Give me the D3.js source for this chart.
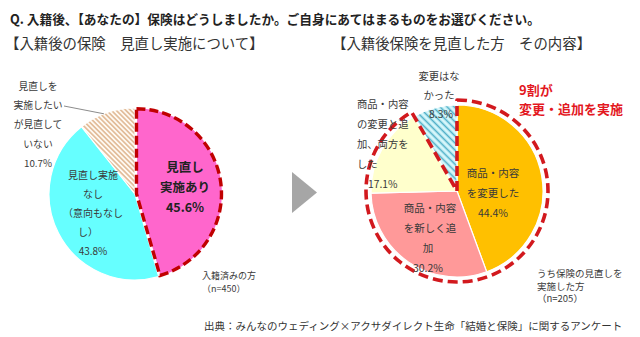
<!DOCTYPE html>
<html>
<head>
<meta charset="utf-8">
<script src="https://cdn.jsdelivr.net/npm/d3@7"></script>
<style>
  html, body { margin: 0; padding: 0; background: #fff; }
  svg { display: block; font-family: "Noto Sans CJK JP", "Noto Sans", sans-serif; }
</style>
</head>
<body>
<svg id="chart" width="640" height="337"></svg>
<script>
// ---------- data ----------
const titleText = "Q. 入籍後、【あなたの】保険はどうしましたか。ご自身にあてはまるものをお選びください。";
const leftSubtitle = "【入籍後の保険　見直し実施について】";
const rightSubtitle = "【入籍後保険を見直した方　その内容】";
const footerText = "出典：みんなのウェディング×アクサダイレクト生命「結婚と保険」に関するアンケート";

const leftCategories = ["見直し実施あり", "見直し実施なし（意向もなし）", "見直しを実施したいが見直していない"];
const leftValues = [45.6, 43.8, 10.7];
const leftLabelLines = [
  ["見直し", "実施あり", "45.6%"],
  ["見直し実施", "なし", "（意向もなし", "し）", "43.8%"],
  ["見直しを", "実施したい", "が見直して", "いない", "10.7%"]
];
const leftNote = ["入籍済みの方", "（n=450）"];

const rightCategories = ["商品・内容を変更した", "商品・内容を新しく追加", "商品・内容の変更と追加、両方をした", "変更はなかった"];
const rightValues = [44.4, 30.2, 17.1, 8.3];
const rightLabelLines = [
  ["商品・内容", "を変更した", "44.4%"],
  ["商品・内容", "を新しく追", "加", "30.2%"],
  ["商品・内容", "の変更と追", "加、両方を", "した", "17.1%"],
  ["変更はな", "かった", "8.3%"]
];
const rightNote = ["うち保険の見直しを", "実施した方", "（n=205）"];
const calloutLines = ["9割が", "変更・追加を実施"];

// ---------- layout / style ----------
const svg = d3.select("#chart");
const textColor = "#3a3a3a";
const dashRed = "#d2191e";

const L = { cx: 135, cy: 194, r: 86 };
const R = { cx: 457, cy: 191, r: 86 };

const defs = svg.append("defs");
function hatch(id, bg, fg, size, w) {
  const p = defs.append("pattern").attr("id", id)
    .attr("patternUnits", "userSpaceOnUse")
    .attr("width", size).attr("height", size)
    .attr("patternTransform", "rotate(-45)");
  p.append("rect").attr("width", size).attr("height", size).attr("fill", bg);
  p.append("line").attr("x1", size / 2).attr("y1", 0).attr("x2", size / 2).attr("y2", size)
    .attr("stroke", fg).attr("stroke-width", w);
}
hatch("hatchTan", "#fffaf3", "#d9aa80", 3.4, 1.3);
hatch("hatchCyan", "#d6f7fb", "#4fb0c8", 5, 1.6);

const leftColors = ["#ff66cc", "#66ffff", "url(#hatchTan)"];
const rightColors = ["#ffc000", "#ff9999", "#ffffcc", "url(#hatchCyan)"];

const pie = d3.pie().sort(null).startAngle(0).endAngle(2 * Math.PI).value(d => d);

function text(g, x, y, str, opts = {}) {
  return g.append("text")
    .attr("x", x).attr("y", y)
    .attr("dominant-baseline", "central")
    .attr("text-anchor", opts.anchor || "start")
    .attr("font-size", opts.size || 10)
    .attr("font-weight", opts.weight || "normal")
    .attr("fill", opts.fill || textColor)
    .text(str);
}
function lines(g, x, y, arr, step, opts = {}, dxs = []) {
  arr.forEach((s, i) => text(g, x + (dxs[i] || 0), y + i * step, s, opts));
}

// ---------- titles ----------
text(svg, 10, 18, titleText, { size: 12.7, weight: "bold", fill: "#222" });
text(svg, 5, 42, leftSubtitle, { size: 14.4, fill: "#333" });
text(svg, 332, 42, rightSubtitle, { size: 14.4, fill: "#333" });
text(svg, 204, 325, footerText, { size: 10.5, fill: "#333" });

// ---------- left pie ----------
const gL = svg.append("g").attr("transform", `translate(${L.cx},${L.cy})`);
const arcL = d3.arc().innerRadius(0).outerRadius(L.r);
const leftArcs = pie(leftValues);
gL.selectAll("path.slice").data(leftArcs).join("path")
  .attr("class", "slice")
  .attr("transform", (d, i) => {
    if (i !== 0) return null;
    const a = (d.startAngle + d.endAngle) / 2;
    return `translate(${1.5 * Math.sin(a)},${-1.5 * Math.cos(a)})`;
  })
  .attr("d", arcL)
  .attr("fill", (d, i) => leftColors[i])
  .attr("stroke", "#fff").attr("stroke-width", 1.2);

// leader line for small slice
{
  const d = leftArcs[2];
  const a = d.startAngle + (d.endAngle - d.startAngle) * 0.45;
  const px = L.cx + L.r * Math.sin(a), py = L.cy - L.r * Math.cos(a);
  svg.append("line").attr("x1", 64).attr("y1", 106).attr("x2", px).attr("y2", py)
    .attr("stroke", "#8c8c8c").attr("stroke-width", 1);
}

// labels
lines(svg, 185, 166, leftLabelLines[0], 20, { size: 12.5, weight: "bold", anchor: "middle", fill: "#222" });
lines(svg, 93, 174, leftLabelLines[1], 19, { size: 10, anchor: "middle" }, [0, 0, 0, -5, 0]);
lines(svg, 38, 86, leftLabelLines[2], 19.2, { size: 9.8, anchor: "middle" });
lines(svg, 202, 275, leftNote, 13, { size: 9 });

// dashed outline on highlighted slice
gL.append("path")
  .attr("transform", () => {
    const d = leftArcs[0];
    const a = (d.startAngle + d.endAngle) / 2;
    return `translate(${1.5 * Math.sin(a)},${-1.5 * Math.cos(a)})`;
  })
  .attr("d", d3.arc().innerRadius(0).outerRadius(L.r - 1)(leftArcs[0]))
  .attr("fill", "none").attr("stroke", "#c00000")
  .attr("stroke-width", 3.4).attr("stroke-dasharray", "9,4");

// ---------- arrow ----------
svg.append("path")
  .attr("d", d3.line()([[292, 172], [292, 213], [317, 192.5]]) + "Z")
  .attr("fill", "#a6a6a6");

// ---------- right pie ----------
const gR = svg.append("g").attr("transform", `translate(${R.cx},${R.cy})`);
const arcR = d3.arc().innerRadius(0).outerRadius(R.r);
const rightArcs = pie(rightValues);
gR.selectAll("path.slice").data(rightArcs).join("path")
  .attr("class", "slice")
  .attr("d", arcR)
  .attr("fill", (d, i) => rightColors[i])
  .attr("stroke", "#fff").attr("stroke-width", 1.2);

lines(svg, 493, 172, rightLabelLines[0], 20, { size: 10.5, anchor: "middle" });
lines(svg, 430, 207, rightLabelLines[1], 20.3, { size: 10.5, anchor: "middle" }, [0, 0, -2, -2]);
lines(svg, 357, 103, rightLabelLines[2], 20.2, { size: 10.3 }, [0, 0, 0, 0, 11]);
lines(svg, 439, 75, rightLabelLines[3], 19, { size: 10.3, anchor: "middle" }, [0, 0, 2]);
lines(svg, 537, 273, rightNote, 12.5, { size: 9.5 });
lines(svg, 519, 89, calloutLines, 19, { size: 13, weight: "bold", fill: "#e3181f" });

// dashed outline around changed/added group
{
  const groupEnd = rightArcs[2].endAngle;
  gR.append("path")
    .attr("d", d3.arc().innerRadius(0).outerRadius(R.r + 5)({ startAngle: 0, endAngle: groupEnd }))
    .attr("fill", "none").attr("stroke", dashRed)
    .attr("stroke-width", 3.6).attr("stroke-dasharray", "10,5")
    .attr("stroke-linejoin", "round");
}
</script>
</body>
</html>
